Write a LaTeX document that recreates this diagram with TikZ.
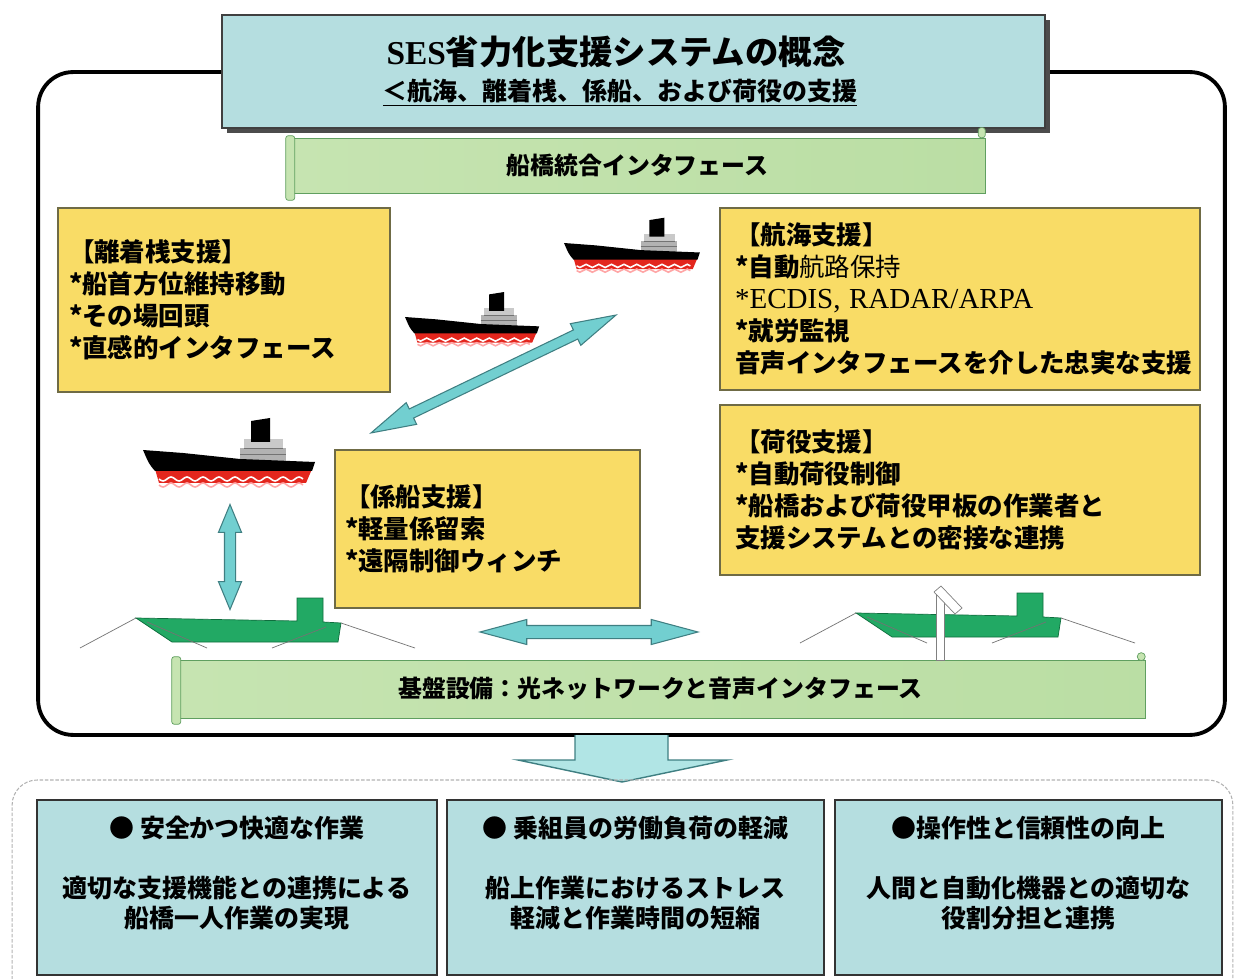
\documentclass[tikz,border=0pt]{standalone}
\usepackage{fontspec}
\setmainfont{Liberation Serif}
\newfontfamily\jp{Noto Sans CJK JP}
\usetikzlibrary{shapes.arrows,shadows}

\definecolor{panelcyan}{HTML}{B5DEE0}
\definecolor{boxyellow}{HTML}{F9DC66}
\definecolor{boxolive}{HTML}{6F6B45}
\definecolor{arrcyan}{HTML}{72CFD0}
\definecolor{arredge}{HTML}{3F7F82}
\definecolor{tuggreen}{HTML}{22A964}
\definecolor{tugdark}{HTML}{0F6E3E}
\definecolor{bandlight}{HTML}{C6E4B1}
\definecolor{banddark}{HTML}{78BC5A}
\definecolor{hullred}{HTML}{E3261D}

\tikzset{
  frame/.style={draw, line width=2.2pt, rounded corners=0.7cm, fill=white},
  titlebox/.style={draw=black!75, thick, fill=panelcyan, drop shadow={shadow xshift=0.1cm, shadow yshift=-0.1cm, fill=black!70, opacity=1}},
  titlefont/.style={font=\jp\bfseries\fontsize{19}{22}\selectfont, inner sep=0pt},
  subfont/.style={font=\jp\bfseries\fontsize{14.2}{17}\selectfont, inner sep=0pt},
  banner/.style={draw=green!25!gray, thin, left color=bandlight, middle color=banddark, right color=bandlight!85!banddark, font=\jp\bfseries\fontsize{13.6}{16}\selectfont},
  scrollend/.style={draw=green!25!gray, thin, fill=bandlight, rounded corners=1.5pt},
  supbox/.style={draw=boxolive, line width=1.2pt, fill=boxyellow, align=left, inner xsep=0.2cm, font=\jp\bfseries\fontsize{14.5}{18.2}\selectfont},
  resbox/.style={draw=black!80, line width=1.3pt, fill=panelcyan},
  restext/.style={align=center, inner sep=0pt, font=\jp\bfseries\fontsize{14.2}{17}\selectfont},
  dblarrow/.style={double arrow, draw=arredge, fill=arrcyan, semithick, double arrow tip angle=30, inner xsep=0pt, inner ysep=0.1cm},
  mooring/.style={black!55, thin},
  ship/.pic={
    % superstructure and funnel
    \fill[gray!60] (97,-2) rectangle (143,12);
    \fill[gray!42] (101,-11) rectangle (140,-2);
    \draw[black!55, very thin] (97,4) -- (143,4) (101,-2) -- (140,-2);
    \fill[black] (108,-8) -- (108,-29) -- (127,-32) -- (127,-8) -- cycle;
    % hull
    \fill[hullred] (12,19) -- (169,19) -- (163,33) -- (16,33) -- cycle;
    \fill[black] (0,0) -- (40,3) -- (97,9) -- (172,12) -- (169,21) -- (12,21) .. controls (6,14) .. (0,0) -- cycle;
    \draw[white, line width=0.9pt] (16,29) \foreach \i in {1,...,9} {sin ++(4,2) cos ++(4,-2) sin ++(4,-2) cos ++(4,2)};
    \draw[red!35, line width=0.9pt] (16,35) \foreach \i in {1,...,9} {sin ++(4,2) cos ++(4,-2) sin ++(4,-2) cos ++(4,2)};
  },
  tug/.pic={
    \draw[mooring] (-56,30) -- (0,0);
    \filldraw[fill=tuggreen, draw=tugdark, thin] (0,0) -- (161,3) -- (161,-20) -- (187,-20) -- (187,4) -- (205,5) -- (202,24) -- (36,24) -- cycle;
    \draw[mooring] (11,4) -- (71,30) (136,30) -- (190,9) (205,5) -- (279,30);
  }
}

\begin{document}
\begin{tikzpicture}[x=0.02cm, y=-0.02cm]
  \useasboundingbox (0,0) rectangle (1237,979);

  % outer frame and title
  \node[frame, minimum width=23.74cm, minimum height=13.26cm] (frame) at (631.5,403.5) {};
  \node[titlebox, minimum width=16.46cm, minimum height=2.26cm] (title) at (633.5,71.5) {};
  \node[titlefont] (titleA) at (616,52) {{\rmfamily\bfseries SES}省力化支援システムの概念};
  \node[subfont] (titleB) at (620,93) {\underline{＜航海、離着桟、係船、および荷役の支援}};

  % scroll banners
  \node[banner, minimum width=13.9cm, minimum height=1.1cm] (bridge) at (637.5,165.5) {船橋統合インタフェース};
  \draw[scrollend] ([shift={(-4,-2)}]bridge.north west) rectangle ([shift={(5,7)}]bridge.south west);
  \draw[scrollend] ([shift={(-7,0)}]bridge.north east) rectangle ([shift={(0,-10)}]bridge.north east);
  \node[banner, minimum width=19.38cm, minimum height=1.16cm] (base) at (660.5,689) {基盤設備：光ネットワークと音声インタフェース};
  \draw[scrollend] ([shift={(-4,-3)}]base.north west) rectangle ([shift={(5,6)}]base.south west);
  \draw[scrollend] ([shift={(-4,-3)}]base.north east) circle (4);

  % support functions
  \node[supbox, minimum width=6.64cm, minimum height=3.68cm, text width=6.2cm] (berthing) at (224,300)
    {【離着桟支援】\\{}*船首方位維持移動\\{}*その場回頭\\{}*直感的インタフェース};
  \node[supbox, inner xsep=0.3cm, minimum width=9.6cm, minimum height=3.64cm, text width=9cm] (navigation) at (960,299)
    {【航海支援】\\{}*自動{\mdseries 航路保持}\\{\rmfamily\mdseries\fontsize{16.5}{18.2}\selectfont *ECDIS, RADAR/ARPA}\\{}*就労監視\\音声インタフェースを介した忠実な支援};
  \node[supbox, inner xsep=0.3cm, minimum width=9.6cm, minimum height=3.4cm, text width=9cm] (cargo) at (960,490)
    {【荷役支援】\\{}*自動荷役制御\\{}*船橋および荷役甲板の作業者と\\支援システムとの密接な連携};
  \node[supbox, minimum width=6.1cm, minimum height=3.16cm, text width=5.7cm] (mooring) at (487.5,529)
    {【係船支援】\\{}*軽量係留索\\{}*遠隔制御ウィンチ};

  % ships
  \pic (shipA) at (564,243) [scale=0.79] {ship};
  \pic (shipB) at (405,317) [scale=0.78] {ship};
  \pic (shipC) at (143,450) {ship};

  % tugs
  \pic (tugL) at (136,618) {tug};
  \pic (tugR) at (856,613) {tug};
  \filldraw[fill=white, draw=gray] (936,594) rectangle (944,660);
  \filldraw[fill=white, draw=gray] (934,592) -- (941,586) -- (962,608) -- (955,614) -- cycle;

  % double arrows
  \node[dblarrow, minimum height=5.44cm, inner ysep=0.09cm, double arrow head extend=0.14cm, rotate=25.7] (diag) at (493.5,374) {};
  \node[dblarrow, minimum height=2.1cm, double arrow head extend=0.12cm, double arrow tip angle=45, rotate=90] (vert) at (230,557) {};
  \node[dblarrow, minimum height=4.36cm, inner ysep=0.12cm, double arrow head extend=0.12cm] (horz) at (589,632) {};

  % result
  \filldraw[fill=arrcyan!55!white, draw=arredge, thick] (575,735) -- (575,760) -- (518,760) -- (622,782) -- (727,760) -- (668,760) -- (668,735);
  \node[draw=gray!60, semithick, dash pattern=on 2pt off 1pt, rounded corners=0.5cm, minimum width=24.42cm, minimum height=4.6cm] (effects) at (622.5,895) {};
  \node[resbox, minimum width=8cm, minimum height=3.5cm] (safety) at (237,887.5) {};
  \node[resbox, minimum width=7.54cm, minimum height=3.5cm] (workload) at (635.5,887.5) {};
  \node[resbox, minimum width=7.74cm, minimum height=3.5cm] (reliab) at (1028.5,887.5) {};
  \node[restext] at (237,873) {● 安全かつ快適な作業\\[17pt]適切な支援機能との連携による\\船橋一人作業の実現};
  \node[restext] at (635.5,873) {● 乗組員の労働負荷の軽減\\[17pt]船上作業におけるストレス\\軽減と作業時間の短縮};
  \node[restext] at (1028.5,873) {●操作性と信頼性の向上\\[17pt]人間と自動化機器との適切な\\役割分担と連携};
\end{tikzpicture}
\end{document}
